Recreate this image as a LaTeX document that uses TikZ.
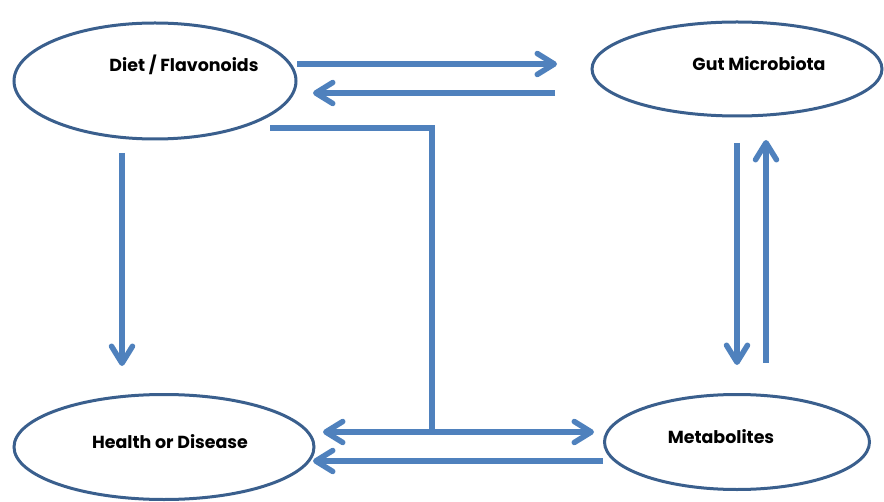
\documentclass[tikz,border=0pt]{standalone}
\usepackage{fontspec}
\setmainfont{Poppins}[BoldFont={Poppins Bold}]
\usetikzlibrary{arrows.meta,shapes.geometric}
\definecolor{flowblue}{HTML}{4F81BD}
\definecolor{rimblue}{HTML}{3A5F8D}

\begin{document}
\begin{tikzpicture}[x=1bp, y=-1bp,
  blob/.style={ellipse, draw=rimblue, line width=3bp, inner sep=0pt},
  tag/.style={font=\bfseries\fontsize{17.5}{20}\selectfont},
  barb/.tip={Straight Barb[length=17bp, width=21bp, round]},
  flow/.style={draw=flowblue, line width=5.5bp, -barb}]
  \useasboundingbox (0,0) rectangle (884,502);

  % ellipses
  \node[blob, minimum width=282bp, minimum height=116bp] (diet) at (155,81) {};
  \node[blob, minimum width=290bp, minimum height=94bp] (gut) at (737,69) {};
  \node[blob, minimum width=300bp, minimum height=105bp] (health) at (164,447) {};
  \node[blob, minimum width=265bp, minimum height=95bp] (metab) at (737,442) {};

  % labels
  \node[tag] (dietlab) at (184,65) {Diet / Flavonoids};
  \node[tag] (gutlab) at (759,64) {Gut Microbiota};
  \node[tag] (healthlab) at (170,442) {Health or Disease};
  \node[tag] (metablab) at (721,437) {Metabolites};

  % arrow ends
  \coordinate (dietR1) at (297,64);
  \coordinate (gutL1) at (557,64);
  \coordinate (gutL2) at (555,93);
  \coordinate (dietR2) at (313,93);
  \coordinate (dietB) at (122,153);
  \coordinate (healthT) at (122,366);
  \coordinate (dietC) at (270,128);
  \coordinate (bend) at (432,128);
  \coordinate (join) at (432,432);
  \coordinate (healthR1) at (323,432);
  \coordinate (metabL1) at (594,432);
  \coordinate (metabL2) at (603,461);
  \coordinate (healthR2) at (313,461);
  \coordinate (gutB1) at (737,143);
  \coordinate (metabT1) at (737,365);
  \coordinate (metabT2) at (766,363);
  \coordinate (gutB2) at (766,140);

  % connectors
  \draw[flow] (dietR1) -- (gutL1);
  \draw[flow] (gutL2) -- (dietR2);
  \draw[flow] (dietB) -- (healthT);
  \draw[flow, -] (dietC) -- (bend) -- (join);
  \draw[flow, barb-barb] (healthR1) -- (metabL1);
  \draw[flow] (metabL2) -- (healthR2);
  \draw[flow] (gutB1) -- (metabT1);
  \draw[flow] (metabT2) -- (gutB2);
\end{tikzpicture}
\end{document}
